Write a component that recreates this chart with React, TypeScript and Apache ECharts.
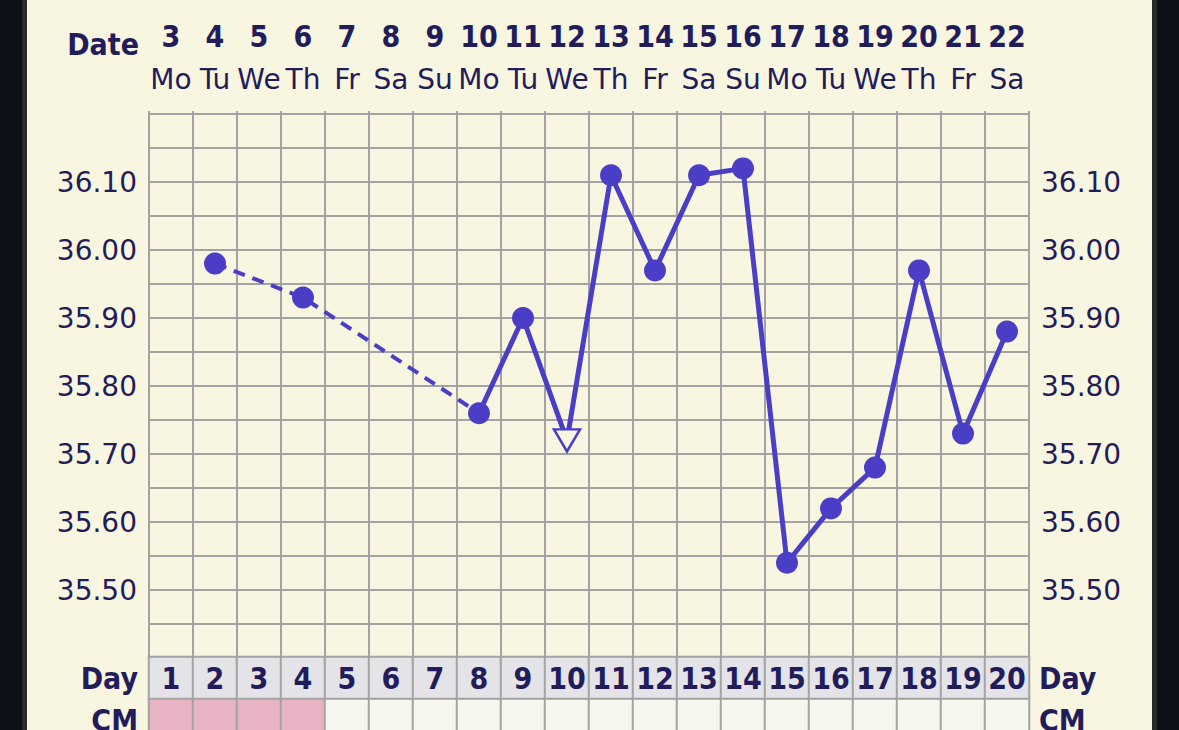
import React, { useEffect, useRef } from "react";
import * as echarts from "echarts";

const cycleDays = ["1","2","3","4","5","6","7","8","9","10","11","12","13","14","15","16","17","18","19","20"];
const dates = ["3","4","5","6","7","8","9","10","11","12","13","14","15","16","17","18","19","20","21","22"];
const weekdays = ["Mo","Tu","We","Th","Fr","Sa","Su","Mo","Tu","We","Th","Fr","Sa","Su","Mo","Tu","We","Th","Fr","Sa"];
const temps: (number | null)[] = [null, 35.98, null, 35.93, null, null, null, 35.76, 35.90, 35.72, 36.11, 35.97, 36.11, 36.12, 35.54, 35.62, 35.68, 35.97, 35.73, 35.88];
const excludedDays = ["10"]; // drawn as open triangle
const solidFromDay = 8; // dashed line before this day (gap days)
const cmFlags = [1, 1, 1, 1, 0, 0, 0, 0, 0, 0, 0, 0, 0, 0, 0, 0, 0, 0, 0, 0];
const yTickLabels = ["35.50", "35.60", "35.70", "35.80", "35.90", "36.00", "36.10"];
const rowLabels = ["CM", "Day"];

const BG = "#f8f5e1";
const LINE = "#4a3ec6";
const TEXT = "#221d5a";
const GRIDC = "#a3a3a3";
const FONT = "DejaVu Sans, Verdana, sans-serif";
const FONT_B = "DejaVu Sans Condensed, DejaVu Sans, sans-serif";

export default function App() {
  const ref = useRef<HTMLDivElement>(null);
  useEffect(() => {
    if (!ref.current) return;
    const chart = echarts.init(ref.current, undefined, { renderer: "svg" });
    const solidIdx = solidFromDay - 1;
    const dashedData = temps.map((v, i) => (i <= solidIdx ? v : null));
    const solidData = temps.map((v, i) => (i >= solidIdx ? v : null));
    const markerData = temps.map((v, i) => {
      if (v === null) return null;
      if (excludedDays.includes(cycleDays[i])) {
        return {
          value: v,
          symbol: "triangle",
          symbolRotate: 180,
          symbolSize: [26, 22],
          itemStyle: { color: BG, borderColor: LINE, borderWidth: 2.5 },
        };
      }
      return { value: v };
    });
    const heatData: any[] = [];
    cycleDays.forEach((d, i) => {
      heatData.push([i, 1, 2]);
      heatData.push([i, 0, cmFlags[i]]);
    });
    const yLabelFmt = (v: number) => {
      const s = v.toFixed(2);
      return yTickLabels.includes(s) ? s : "";
    };
    chart.setOption({
      animation: false,
      backgroundColor: "transparent",
      grid: [
        { left: 149, right: 150, top: 114, height: 544, containLabel: false },
        { left: 149, right: 150, top: 657, height: 84, containLabel: false },
      ],
      visualMap: {
        type: "piecewise",
        show: false,
        seriesIndex: 0,
        dimension: 2,
        pieces: [
          { value: 0, color: "#f6f6ef" },
          { value: 1, color: "#e8b4c4" },
          { value: 2, color: "#e4e3e7" },
        ],
      },
      xAxis: [
        {
          type: "category",
          gridIndex: 0,
          data: cycleDays,
          boundaryGap: true,
          axisLabel: { show: false },
          axisTick: { show: false },
          axisLine: { show: true, lineStyle: { color: GRIDC, width: 2 } },
          splitLine: { show: true, interval: 0, lineStyle: { color: GRIDC, width: 2 } },
        },
        {
          type: "category",
          gridIndex: 0,
          position: "top",
          data: weekdays,
          axisLine: { show: false },
          axisTick: { show: true, length: 3, interval: 0, lineStyle: { color: GRIDC, width: 2 } },
          axisLabel: { interval: 0, margin: 21, fontFamily: FONT, fontSize: 28, color: TEXT },
        },
        {
          type: "category",
          gridIndex: 0,
          position: "top",
          data: dates,
          axisLine: { show: false },
          axisTick: { show: false },
          axisLabel: { interval: 0, margin: 63, fontFamily: FONT_B, fontWeight: "bold", fontSize: 30, color: TEXT },
        },
        {
          type: "category",
          gridIndex: 1,
          data: cycleDays,
          axisLabel: { show: false },
          axisTick: { show: false },
          axisLine: { show: false },
          splitLine: { show: false },
        },
      ],
      yAxis: [
        {
          type: "value",
          gridIndex: 0,
          min: 35.4,
          max: 36.2,
          interval: 0.05,
          axisLine: { show: true, lineStyle: { color: GRIDC, width: 2 } },
          axisTick: { show: false },
          axisLabel: { margin: 12, fontFamily: FONT, fontSize: 28, color: TEXT, formatter: yLabelFmt },
          splitLine: { show: true, lineStyle: { color: GRIDC, width: 2 } },
        },
        {
          type: "value",
          gridIndex: 0,
          position: "right",
          min: 35.4,
          max: 36.2,
          interval: 0.05,
          axisLine: { show: true, lineStyle: { color: GRIDC, width: 2 } },
          axisTick: { show: false },
          axisLabel: { margin: 12, fontFamily: FONT, fontSize: 28, color: TEXT, formatter: yLabelFmt },
          splitLine: { show: false },
        },
        {
          type: "category",
          gridIndex: 1,
          data: rowLabels,
          axisLine: { show: false },
          axisTick: { show: false },
          axisLabel: { margin: 11, fontFamily: FONT_B, fontWeight: "bold", fontSize: 30, color: TEXT },
        },
        {
          type: "category",
          gridIndex: 1,
          position: "right",
          data: rowLabels,
          axisLine: { show: false },
          axisTick: { show: false },
          axisLabel: { margin: 10, fontFamily: FONT_B, fontWeight: "bold", fontSize: 30, color: TEXT },
        },
      ],
      graphic: [
        {
          type: "text",
          right: 1179 - 139,
          top: 29,
          style: { text: "Date", fontFamily: FONT_B, fontWeight: "bold", fontSize: 30, fill: TEXT },
        },
      ],
      series: [
        {
          type: "heatmap",
          xAxisIndex: 3,
          yAxisIndex: 2,
          data: heatData,
          itemStyle: { borderColor: GRIDC, borderWidth: 2 },
          label: {
            show: true,
            fontFamily: FONT_B,
            fontWeight: "bold",
            fontSize: 30,
            color: TEXT,
            formatter: (p: any) => (p.value[1] === 1 ? cycleDays[p.value[0]] : ""),
          },
          emphasis: { disabled: true },
        },
        {
          type: "line",
          xAxisIndex: 0,
          yAxisIndex: 0,
          data: dashedData,
          connectNulls: true,
          showSymbol: false,
          lineStyle: { color: LINE, width: 4, type: [12, 8] },
          z: 2,
        },
        {
          type: "line",
          xAxisIndex: 0,
          yAxisIndex: 0,
          data: solidData,
          connectNulls: false,
          showSymbol: false,
          lineStyle: { color: LINE, width: 5 },
          z: 3,
        },
        {
          type: "scatter",
          xAxisIndex: 0,
          yAxisIndex: 0,
          data: markerData,
          symbol: "circle",
          symbolSize: 22,
          itemStyle: { color: LINE, opacity: 1 },
          z: 4,
        },
      ],
    });
    return () => chart.dispose();
  }, []);
  return (
    <div
      style={{
        position: "fixed",
        left: 0,
        top: 0,
        width: 1179,
        height: 730,
        overflow: "hidden",
        background:
          "linear-gradient(to right, #0d1117 0px, #0d1117 22px, #2a2b2e 22px, #2a2b2e 27px, " +
          BG + " 27px, " + BG + " 1152px, #2a2b2e 1152px, #2a2b2e 1157px, #0d1117 1157px, #0d1117 1179px)",
      }}
    >
      <div ref={ref} style={{ width: 1179, height: 760 }} />
    </div>
  );
}
